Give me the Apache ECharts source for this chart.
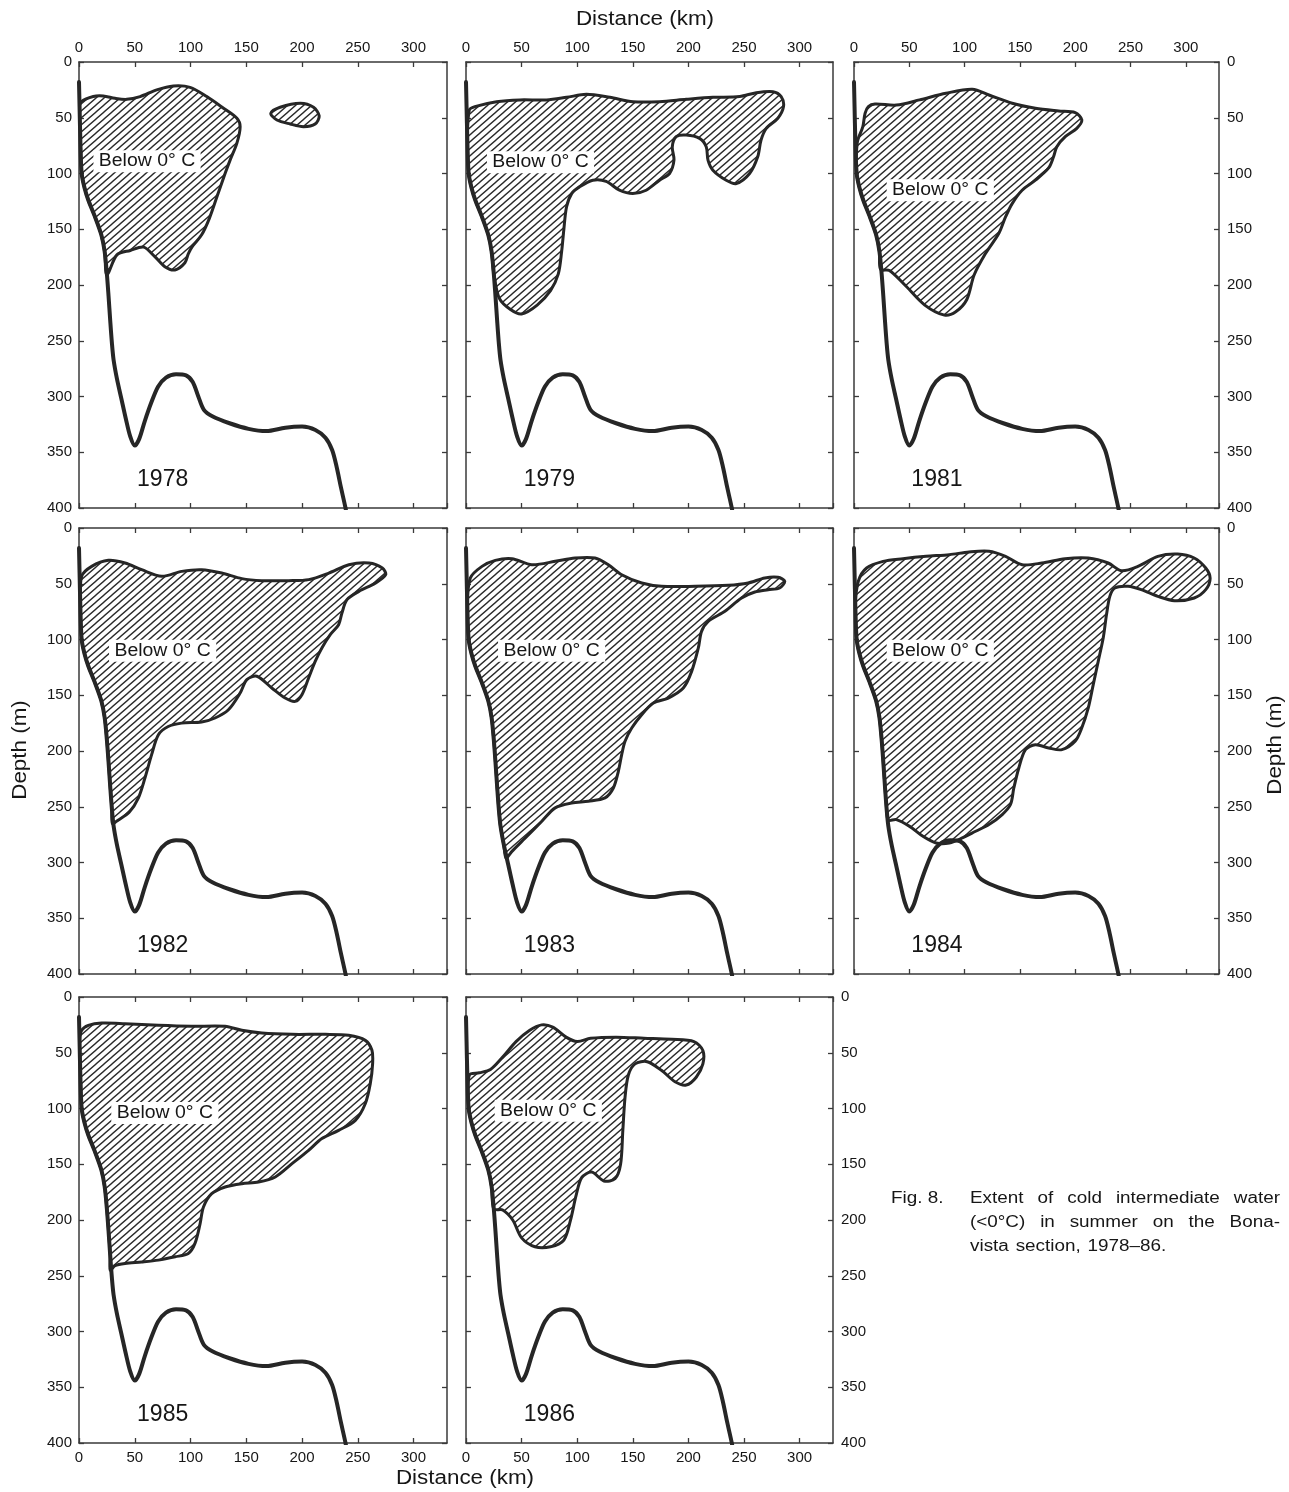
<!DOCTYPE html>
<html>
<head>
<meta charset="utf-8">
<script src="https://cdn.jsdelivr.net/npm/echarts@6/dist/echarts.min.js"></script>
<style>
  html, body { margin: 0; padding: 0; background: #fff; }
  #chart { width: 1289px; height: 1492px; }
</style>
</head>
<body>
<div id="chart"></div>
<script>
// ---- Data: distance (km) / depth (m) ----
const distanceRange = [0, 330];
const depthRange = [0, 400];
const tickStep = 50;
const years = ['1978', '1979', '1981', '1982', '1983', '1984', '1985', '1986'];

// Sea-floor profile along the Bonavista section
const bottomProfile = [
  [0, 18], [0.5, 40], [1.2, 70], [2.4, 100], [5, 113], [8.4, 124], [14, 138], [20, 155],
  [23, 170], [25, 190], [26.5, 210], [28, 232], [29.5, 252], [31, 267], [34, 284], [38, 302],
  [42, 320], [46, 336], [50, 344], [54, 338], [59, 322], [65, 305], [71, 291], [78, 283],
  [87, 280], [96, 281], [102, 287], [107, 300], [112, 312], [120, 318], [135, 324], [152, 329],
  [168, 331], [185, 328], [200, 327], [212, 330], [221, 337], [227, 348], [231, 363],
  [235, 382], [239, 400], [241, 412]
];

// Outlines of water below 0 °C, clockwise from the upper-left corner
const cold1978 = [
  [1.5, 36], [12.8, 31], [21.8, 30.5], [32.3, 32.6], [42.8, 33.5], [54.8, 31], [69.7, 25],
  [84.6, 21.5], [99.6, 22.7], [114.6, 31], [129.6, 41.5], [141.6, 50.5], [144.5, 58],
  [141.6, 72.7], [135.5, 88], [131, 100], [124, 120], [117, 140], [110, 155], [102, 165],
  [98, 172], [95, 180], [86, 186.5], [77, 183.6], [68, 174.6], [58, 166], [46, 169],
  [34, 173], [25, 191]
];
const cold1978Patch = [
  [172, 46], [180.4, 40.6], [198.4, 37], [210.3, 40.6], [215.4, 48.4], [211.8, 55.6],
  [201.3, 58], [189.4, 55.6], [177.5, 52]
];
const cold1979 = [
  [3, 43], [8, 40], [27.5, 35.6], [48.5, 34], [72.4, 34], [90.4, 31.7], [108.3, 29],
  [129.3, 31.7], [150.2, 35.6], [174, 35.6], [198, 33.5], [222, 31.7], [246, 31], [261, 27.5],
  [276, 26.6], [283.4, 31], [285.5, 40], [280.4, 50.5], [270, 59.5], [265.3, 70], [262.3, 85],
  [255, 100], [243, 109], [234, 106], [222, 97], [217.6, 88], [216, 76], [210, 68.5],
  [198, 65.5], [189, 67], [185.5, 76], [187, 88], [183, 100], [174, 106], [162, 115],
  [150, 118], [138, 115], [126, 107], [114, 106], [102, 112], [95, 118], [90.4, 130],
  [88, 150], [86, 170], [83, 190], [76, 205], [64, 218], [50, 226], [40, 222], [30, 212]
];
const cold1981 = [
  [3, 72], [8, 58], [10, 46], [13, 40], [19, 37.7], [38.3, 38.6], [59.2, 34], [83.2, 28],
  [107, 24.5], [122, 29.6], [143, 37], [164, 41.5], [185, 44], [200, 45.4], [206, 52],
  [201.4, 59.5], [191, 67], [183.4, 76], [180.4, 85], [176, 95], [164, 106], [152, 115],
  [143, 127], [137, 139], [131, 153.6], [119, 171.6], [108.6, 191], [102, 213], [92, 224],
  [81.7, 227], [64, 218], [46, 200], [32, 187], [24, 186]
];
const cold1982 = [
  [2.4, 43.3], [11.4, 34.4], [26.3, 29], [41.3, 31.4], [56.2, 37.4], [74.2, 43.3], [92.1, 38.9],
  [110, 37.4], [128, 40.4], [146, 45.4], [164, 47.2], [188, 47.2], [206, 46.3], [224, 40.4],
  [242, 32.9], [260, 31.4], [272, 35.9], [275, 41.9], [266, 49.3], [251, 56.8], [240.3, 64.3],
  [235.8, 76.2], [232.8, 86.7], [225.3, 95.7], [217.8, 107.6], [211.8, 119.6], [205.9, 134.5],
  [199.9, 149.5], [193.9, 155.5], [184.9, 152.5], [172.9, 143.5], [159.5, 133], [150.5, 136],
  [144.5, 148], [134, 163], [122, 170.4], [110, 174], [92, 175], [80, 178], [71.2, 185.4],
  [65.2, 203], [59.2, 224], [53.3, 242], [45, 255], [35, 262], [30, 265]
];
const cold1983 = [
  [3.9, 44.8], [14.4, 34.4], [26.3, 29], [41.3, 27.5], [59.2, 32.9], [80.2, 29.9], [98, 26.9],
  [116, 26.9], [128, 32.9], [140, 41.9], [158, 49.3], [176, 52.3], [206, 52.3], [235.8, 51.4],
  [253.7, 49.3], [268.7, 44.8], [280.6, 44.2], [286.6, 47.8], [282, 53.8], [271.7, 55.3],
  [259.7, 57.4], [247.8, 62.8], [232.8, 74.7], [217.8, 83.7], [211.8, 92.7], [208.9, 107.6],
  [202.9, 128.6], [195.4, 143.5], [181.9, 152.5], [168.5, 157], [158, 167.4], [149, 179.4],
  [143, 191.3], [140, 203.3], [137, 218.2], [132.5, 233.2], [125, 242], [110, 245], [95, 246.6],
  [80.2, 251], [68.2, 263], [53.3, 278], [41.3, 290], [36, 296]
];
const cold1984 = [
  [3.9, 47.8], [11.4, 35.9], [26.3, 29.9], [44.3, 27.5], [65.2, 25.4], [86.2, 23.9], [104, 21.5],
  [122, 20.9], [137, 25.4], [152, 32.9], [170, 31.4], [190.9, 27.5], [211.8, 26.9],
  [229.8, 31.4], [241.8, 38.3], [256.7, 34.4], [274.7, 25.4], [292.6, 23.3], [307.6, 26.9],
  [318, 35.9], [322, 45], [318, 55.3], [307.6, 62.8], [289.7, 65.2], [274.7, 61.3],
  [259.7, 55.3], [247.8, 52.3], [235.8, 53.8], [231.3, 61.3], [228.3, 77.7], [225.3, 98.7],
  [220.8, 119.6], [216.3, 140.5], [211.8, 161.4], [205.9, 179.4], [199.9, 191.3], [188, 198.8],
  [176, 197.3], [164, 194.3], [155, 198.8], [149, 215.2], [144.5, 233.2], [141.5, 248],
  [134, 257], [122, 266], [110, 272], [98, 278], [86.2, 282.5], [74.2, 282.5], [62.3, 276.5],
  [50.3, 267.6], [38.3, 261.6], [31, 262]
];
const cold1985 = [
  [2.4, 29.9], [8.4, 25.4], [20.3, 23.3], [41.3, 23.9], [71.2, 25.4], [101, 26.3], [131, 26.3],
  [146, 29.9], [164, 32.3], [191, 33.5], [221, 33.5], [241.8, 34.4], [256.7, 38.9],
  [262.7, 47.8], [263.3, 59.8], [261.2, 77.7], [256.7, 95.7], [247.8, 110.6], [232.8, 119.6],
  [217.8, 127], [205.9, 137.5], [191, 149.5], [176, 161.4], [161, 166], [146, 167.4],
  [131, 170.4], [119, 176.4], [111.6, 188.3], [108.6, 203.3], [104, 221], [98, 230],
  [86.2, 233], [71.2, 236], [56.2, 237.7], [41.3, 239], [32.3, 241], [28, 245]
];
const cold1986 = [
  [3, 70], [12, 68], [22, 65], [32, 55], [45, 40], [57, 30], [68, 25], [78, 27], [90, 36],
  [100, 40], [112, 37], [135, 36], [160, 37], [185, 38], [205, 40], [213, 48], [213, 60],
  [207, 72], [198, 79], [188, 76], [176, 66], [163, 58], [152, 60], [146, 70], [143, 90],
  [141, 120], [139, 150], [134, 163], [124, 165], [113, 157], [104, 162], [99, 178], [94, 200],
  [88, 218], [76, 224], [62, 224], [50, 216], [42, 200], [33, 191], [25, 190]
];

// ---- Layout and styles ----
const FONT = '"Liberation Sans", Arial, Helvetica, sans-serif';
const INK = '#262626';
const TEXT = '#161616';
const FRAME = '#3a3a3a';
const colLeft = [79, 466, 854];
const colWidth = [368, 367, 365];
const rowTop = [62, 528, 997];
const panelHeight = 446;

const panels = [
  { year: years[0], row: 0, col: 0, cold: [cold1978, cold1978Patch], shelf: [true, false], tagAt: [61, 89] },
  { year: years[1], row: 0, col: 1, cold: [cold1979], shelf: [true], tagAt: [67, 90] },
  { year: years[2], row: 0, col: 2, cold: [cold1981], shelf: [true], tagAt: [78, 115] },
  { year: years[3], row: 1, col: 0, cold: [cold1982], shelf: [true], tagAt: [75, 110] },
  { year: years[4], row: 1, col: 1, cold: [cold1983], shelf: [true], tagAt: [77, 110] },
  { year: years[5], row: 1, col: 2, cold: [cold1984], shelf: [true], tagAt: [78, 110] },
  { year: years[6], row: 2, col: 0, cold: [cold1985], shelf: [true], tagAt: [77, 104] },
  { year: years[7], row: 2, col: 1, cold: [cold1986], shelf: [true], tagAt: [74, 102] }
];
const yearAt = [75, 375];

// Diagonal hatching used to fill the cold-water areas
function makeHatch() {
  const w = 8, h = 7;
  const c = document.createElement('canvas');
  c.width = w; c.height = h;
  const g = c.getContext('2d');
  g.strokeStyle = '#2a2a2a';
  g.lineWidth = 1.35;
  g.beginPath();
  [-w, 0, w].forEach(dx => {
    g.moveTo(dx - w, 2 * h);
    g.lineTo(dx + 2 * w, -h);
  });
  g.stroke();
  return c;
}
const hatchFill = { image: makeHatch(), repeat: 'repeat' };

// Close an outline along the continental slope of the bottom profile
function withShelf(pts) {
  const top = pts[0][1];
  const bottom = pts[pts.length - 1][1];
  const edge = bottomProfile.filter(p => p[0] < 50 && p[1] > top + 3 && p[1] < bottom - 3).reverse();
  return pts.concat(edge);
}

function makeX(gi, pos, showLabels) {
  return {
    type: 'value', gridIndex: gi, position: pos,
    min: distanceRange[0], max: distanceRange[1], interval: tickStep,
    axisLine: { show: true, onZero: false, lineStyle: { color: FRAME, width: 1.5 } },
    axisTick: { show: true, inside: true, length: 5, lineStyle: { color: FRAME, width: 1.3 } },
    axisLabel: { show: showLabels, margin: 7, fontSize: 15, fontFamily: FONT, color: TEXT,
                 showMaxLabel: false, formatter: v => (v % tickStep === 0 ? String(v) : '') },
    splitLine: { show: false }
  };
}
function makeY(gi, pos, showLabels) {
  return {
    type: 'value', gridIndex: gi, position: pos, inverse: true,
    min: depthRange[0], max: depthRange[1], interval: tickStep,
    axisLine: { show: true, onZero: false, lineStyle: { color: FRAME, width: 1.5 } },
    axisTick: { show: true, inside: true, length: 5, lineStyle: { color: FRAME, width: 1.3 } },
    axisLabel: { show: showLabels, margin: pos === 'right' ? 8 : 7, fontSize: 15, fontFamily: FONT, color: TEXT },
    splitLine: { show: false }
  };
}

const grid = [], xAxis = [], yAxis = [], series = [];
panels.forEach((p, i) => {
  grid.push({ left: colLeft[p.col], top: rowTop[p.row], width: colWidth[p.col], height: panelHeight,
              containLabel: false, outerBoundsMode: 'none' });
  xAxis.push(makeX(i, 'bottom', p.row === 2));
  xAxis.push(makeX(i, 'top', p.row === 0));
  yAxis.push(makeY(i, 'left', p.col === 0));
  yAxis.push(makeY(i, 'right', p.col === 2 || (p.row === 2 && p.col === 1)));

  const shapes = p.cold.map((pts, k) => (p.shelf[k] ? withShelf(pts) : pts));
  series.push({
    type: 'custom', xAxisIndex: 2 * i, yAxisIndex: 2 * i, clip: true, silent: true, z: 2,
    data: shapes.map(s => s[0]),
    renderItem: (params, api) => ({
      type: 'polygon',
      shape: { points: shapes[params.dataIndex].map(q => api.coord(q)), smooth: 0.3 },
      style: { fill: hatchFill, stroke: INK, lineWidth: 3, lineJoin: 'round' }
    })
  });
  series.push({
    type: 'line', xAxisIndex: 2 * i, yAxisIndex: 2 * i, data: bottomProfile,
    smooth: 0.3, symbol: 'none', silent: true, z: 3,
    lineStyle: { color: INK, width: 4, cap: 'round', join: 'round' }
  });
  series.push({
    type: 'custom', xAxisIndex: 2 * i, yAxisIndex: 2 * i, silent: true, z: 4,
    data: [p.tagAt, yearAt],
    renderItem: (params, api) => {
      const c = api.coord([api.value(0), api.value(1)]);
      if (params.dataIndex === 0) {
        return { type: 'text', x: c[0], y: c[1], scaleX: 1.08,
          style: { text: 'Below 0° C', font: '18px ' + FONT, fill: TEXT, align: 'center',
                   verticalAlign: 'middle', backgroundColor: '#fff', padding: [2, 5] } };
      }
      return { type: 'text', x: c[0], y: c[1],
        style: { text: p.year, font: '23px ' + FONT, fill: TEXT, align: 'center', verticalAlign: 'middle' } };
    }
  });
});

// Caption, justified on its first two lines
const measureCtx = document.createElement('canvas').getContext('2d');
const capFont = '16px ' + FONT;
const capScale = 1.18;
function captionLine(text, x0, x1, y, justify) {
  measureCtx.font = capFont;
  const words = text.split(' ');
  const widths = words.map(w => measureCtx.measureText(w).width * capScale);
  const total = widths.reduce((a, b) => a + b, 0);
  const gap = justify ? (x1 - x0 - total) / (words.length - 1) : measureCtx.measureText(' ').width * capScale * 1.3;
  const out = [];
  let x = x0;
  words.forEach((w, k) => {
    out.push({ type: 'text', x: x, y: y, scaleX: capScale,
      style: { text: w, font: capFont, fill: TEXT, align: 'left', verticalAlign: 'middle' } });
    x += widths[k] + gap;
  });
  return out;
}

const graphic = [
  { type: 'text', x: 645, y: 19, scaleX: 1.12,
    style: { text: 'Distance (km)', font: '20px ' + FONT, fill: TEXT, align: 'center', verticalAlign: 'middle' } },
  { type: 'text', x: 465, y: 1478, scaleX: 1.12,
    style: { text: 'Distance (km)', font: '20px ' + FONT, fill: TEXT, align: 'center', verticalAlign: 'middle' } },
  { type: 'text', x: 20, y: 750, rotation: Math.PI / 2, scaleX: 1.12,
    style: { text: 'Depth (m)', font: '20px ' + FONT, fill: TEXT, align: 'center', verticalAlign: 'middle' } },
  { type: 'text', x: 1275, y: 745, rotation: Math.PI / 2, scaleX: 1.12,
    style: { text: 'Depth (m)', font: '20px ' + FONT, fill: TEXT, align: 'center', verticalAlign: 'middle' } },
  { type: 'text', x: 891, y: 1199, scaleX: capScale,
    style: { text: 'Fig. 8.', font: capFont, fill: TEXT, align: 'left', verticalAlign: 'middle' } }
].concat(
  captionLine('Extent of cold intermediate water', 970, 1280, 1199, true),
  captionLine('(<0°C) in summer on the Bona-', 970, 1280, 1223, true),
  captionLine('vista section, 1978–86.', 970, 1280, 1247, false)
);

const chart = echarts.init(document.getElementById('chart'), null, { renderer: 'canvas' });
chart.setOption({
  animation: false,
  backgroundColor: '#fff',
  grid: grid,
  xAxis: xAxis,
  yAxis: yAxis,
  series: series,
  graphic: graphic
});
</script>
</body>
</html>
